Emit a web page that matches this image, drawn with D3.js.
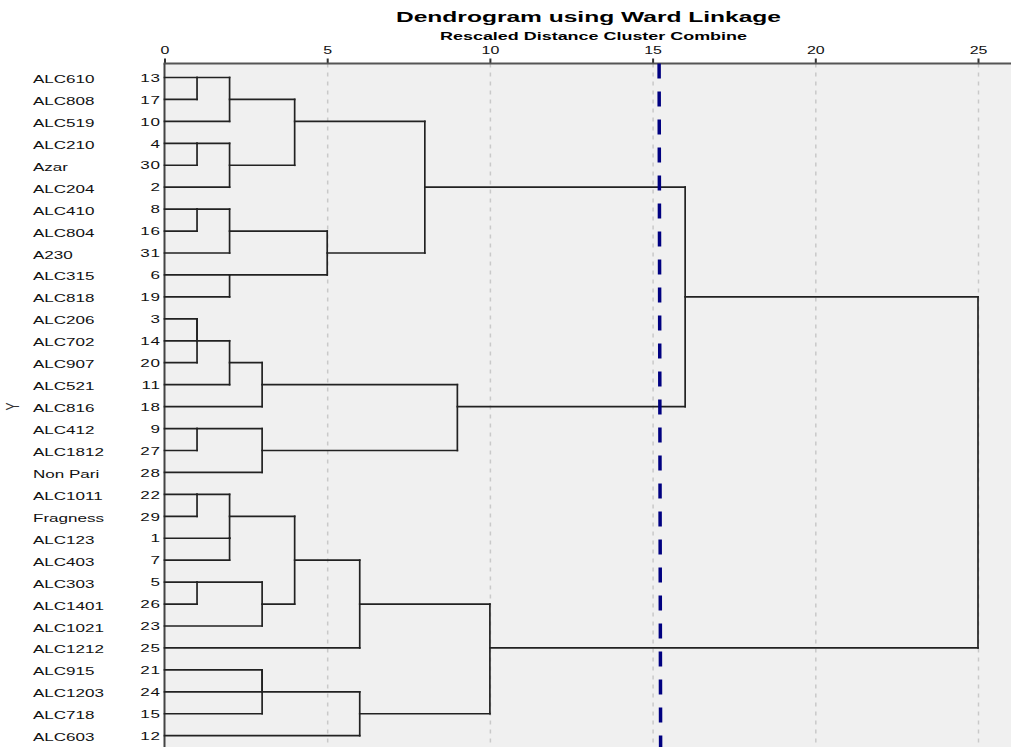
<!DOCTYPE html>
<html>
<head>
<meta charset="utf-8">
<script src="https://cdnjs.cloudflare.com/ajax/libs/d3/7.8.5/d3.min.js"></script>
<style>
    body { margin: 0; background: #fff; }
    svg { display: block; font-family: 'Liberation Sans', Arial, sans-serif; }
</style>
</head>
<body>
<script>
// leaves, top to bottom
const leafNames = ['ALC610', 'ALC808', 'ALC519', 'ALC210', 'Azar', 'ALC204', 'ALC410', 'ALC804', 'A230', 'ALC315',
    'ALC818', 'ALC206', 'ALC702', 'ALC907', 'ALC521', 'ALC816', 'ALC412', 'ALC1812', 'Non Pari', 'ALC1011',
    'Fragness', 'ALC123', 'ALC403', 'ALC303', 'ALC1401', 'ALC1021', 'ALC1212', 'ALC915', 'ALC1203', 'ALC718', 'ALC603'];
const caseNumbers = [13, 17, 10, 4, 30, 2, 8, 16, 31, 6, 19, 3, 14, 20, 11, 18, 9, 27, 28, 22, 29, 1, 7, 5, 26, 23, 25, 21, 24, 15, 12];

// agglomeration: [left, right, rescaled distance]; 'mN' = result of merge N
const merges = [
    [13, 17, 1],        // m0
    ['m0', 10, 2],      // m1
    [4, 30, 1],         // m2
    ['m2', 2, 2],       // m3
    ['m1', 'm3', 4],    // m4
    [8, 16, 1],         // m5
    ['m5', 31, 2],      // m6
    [6, 19, 2],         // m7
    ['m6', 'm7', 5],    // m8
    ['m4', 'm8', 8],    // m9
    [3, 14, 1],         // m10
    ['m10', 20, 1],     // m11
    ['m11', 11, 2],     // m12
    ['m12', 18, 3],     // m13
    [9, 27, 1],         // m14
    ['m14', 28, 3],     // m15
    ['m13', 'm15', 9],  // m16
    ['m9', 'm16', 16],  // m17
    [22, 29, 1],        // m18
    [1, 7, 2],          // m19
    ['m18', 'm19', 2],  // m20
    [5, 26, 1],         // m21
    ['m21', 23, 3],     // m22
    ['m20', 'm22', 4],  // m23
    ['m23', 25, 6],     // m24
    [21, 24, 3],        // m25
    ['m25', 15, 3],     // m26
    ['m26', 12, 6],     // m27
    ['m24', 'm27', 10], // m28
    ['m17', 'm28', 25]  // m29
];

const distTicks = [0, 5, 10, 15, 20, 25];
const cutDistance = 15.2;

const width = 1011, height = 747;
const plotTop = 63.5;
const stretch = 1.55; // the original text is drawn wide

let svg = d3.select('body').append('svg')
    .attr('width', width)
    .attr('height', height);

let x = d3.scaleLinear().domain([0, 25]).range([164.5, 978]);
let y = d3.scaleLinear().domain([0, leafNames.length - 1]).range([77.5, 735.7]);

//title
svg.append('text')
    .attr('x', 396).attr('y', 22)
    .attr('font-size', 14).attr('font-weight', 'bold')
    .attr('textLength', 385).attr('lengthAdjust', 'spacingAndGlyphs')
    .text('Dendrogram using Ward Linkage');
svg.append('text')
    .attr('x', 440).attr('y', 39.5)
    .attr('font-size', 10.5).attr('font-weight', 'bold')
    .attr('textLength', 307).attr('lengthAdjust', 'spacingAndGlyphs')
    .text('Rescaled Distance Cluster Combine');

//plot background
svg.append('rect')
    .attr('x', x(0)).attr('y', plotTop)
    .attr('width', width - x(0)).attr('height', height - plotTop)
    .attr('fill', '#f0f0f0');

//dotted grid
svg.append('g')
    .attr('transform', 'translate(0,' + plotTop + ')')
    .call(d3.axisBottom(x).tickValues(distTicks.slice(1)).tickSize(height - plotTop).tickFormat(''))
    .call(g => g.select('.domain').remove())
    .selectAll('line')
    .attr('stroke', '#c9c9c9')
    .attr('stroke-width', 1.5)
    .attr('stroke-dasharray', '4,5');

//top axis
let axis = svg.append('g')
    .attr('transform', 'translate(0,' + plotTop + ')')
    .call(d3.axisTop(x).tickValues(distTicks).tickSize(5).tickSizeOuter(0).tickPadding(5));
axis.select('.domain').remove();
axis.selectAll('line').attr('stroke', '#333').attr('stroke-width', 2);
axis.selectAll('text')
    .attr('font-size', 11)
    .attr('font-family', null)
    .attr('fill', '#111')
    .attr('transform', 'scale(1.45,1)');
svg.append('line')
    .attr('x1', x(0) - 1).attr('x2', width)
    .attr('y1', plotTop).attr('y2', plotTop)
    .attr('stroke', '#555').attr('stroke-width', 2);
svg.append('line')
    .attr('x1', x(0)).attr('x2', x(0))
    .attr('y1', plotTop).attr('y2', height)
    .attr('stroke', '#444').attr('stroke-width', 2);

//leaf labels
svg.append('g').selectAll('text')
    .data(leafNames)
    .join('text')
    .attr('transform', (d, i) => 'translate(33,' + (y(i) + 5.5) + ') scale(' + stretch + ',1)')
    .attr('font-size', 11)
    .attr('fill', '#111')
    .text(d => d);
svg.append('g').selectAll('text')
    .data(caseNumbers)
    .join('text')
    .attr('transform', (d, i) => 'translate(161,' + (y(i) + 4.2) + ') scale(' + stretch + ',1)')
    .attr('text-anchor', 'end')
    .attr('font-size', 11)
    .attr('letter-spacing', 0.6)
    .attr('fill', '#111')
    .text(d => d);

//axis title
svg.append('text')
    .attr('transform', 'translate(19,' + y(15) + ') scale(1.5,1) rotate(-90)')
    .attr('text-anchor', 'middle')
    .attr('font-size', 12)
    .attr('fill', '#333')
    .text('Y');

//tree: each cluster sits on the row floor((a+b)/2) of its two children
let nodes = {};
caseNumbers.forEach((c, i) => { nodes[c] = {row: i, dist: 0}; });
let segs = [];
merges.forEach((m, i) => {
    let a = nodes[m[0]], b = nodes[m[1]], d = m[2];
    [a, b].forEach(c => segs.push([x(c.dist), y(c.row), x(d), y(c.row)]));
    segs.push([x(d), y(a.row), x(d), y(b.row)]);
    nodes['m' + i] = {row: Math.floor((a.row + b.row) / 2), dist: d};
});
svg.append('g').selectAll('line')
    .data(segs)
    .join('line')
    .attr('x1', d => d[0]).attr('y1', d => d[1])
    .attr('x2', d => d[2]).attr('y2', d => d[3])
    .attr('stroke', '#222')
    .attr('stroke-width', 1.7)
    .attr('stroke-linecap', 'square');

//cut-off line
svg.append('line')
    .attr('x1', x(cutDistance)).attr('x2', x(cutDistance) + 1.5)
    .attr('y1', plotTop).attr('y2', height)
    .attr('stroke', '#000080')
    .attr('stroke-width', 3.5)
    .attr('stroke-dasharray', '15,13');
</script>
</body>
</html>
